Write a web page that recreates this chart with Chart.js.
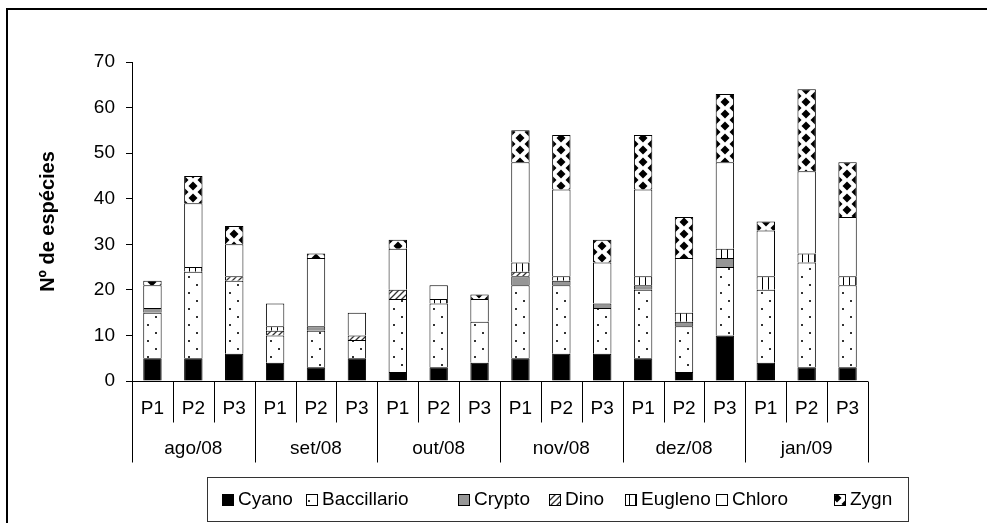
<!DOCTYPE html>
<html>
<head>
<meta charset="utf-8">
<script src="https://cdn.jsdelivr.net/npm/chart.js@4"></script>
<style>
  html, body { margin: 0; padding: 0; background: #fff; }
  #wrap { position: relative; width: 987px; height: 523px; }
</style>
</head>
<body>
<div id="wrap"><canvas id="chart" width="987" height="523"></canvas></div>
<script>
// Données
const months = ["ago/08", "set/08", "out/08", "nov/08", "dez/08", "jan/09"];
const points = ["P1", "P2", "P3"];
const yTicks = [0, 10, 20, 30, 40, 50, 60, 70];

const cyano       = [5, 5, 6,   4, 3, 5,   2, 3, 4,   5, 6, 6,   5, 2, 10,  4, 3, 3];
const baccillario = [10, 19, 16, 6, 8, 4,  16, 14, 9, 16, 15, 10, 15, 10, 15, 16, 23, 18];
const crypto      = [1, 0, 0,   0, 1, 0,   0, 0, 0,   2, 1, 1,   1, 1, 2,   0, 0, 0];
const dino        = [0, 0, 1,   1, 0, 1,   2, 0, 0,   1, 0, 0,   0, 0, 0,   0, 0, 0];
const eugleno     = [0, 1, 0,   1, 0, 0,   0, 1, 0,   2, 1, 0,   2, 2, 2,   3, 2, 2];
const chloro      = [5, 14, 7,  5, 15, 5,  9, 3, 5,  22, 19, 9,  19, 12, 19, 10, 18, 13];
const zygn        = [1, 6, 4,   0, 1, 0,   2, 0, 1,   7, 12, 5,  12, 9, 15,  2, 18, 12];

const labels = [];
months.forEach(m => points.forEach(p => labels.push(p)));

const FONT = "'Liberation Sans', Arial, sans-serif";
const BAR_PCT = 0.45;

// Motifs de remplissage
function makeTile(w, h, draw) {
    const c = document.createElement("canvas");
    c.width = w; c.height = h;
    const g = c.getContext("2d");
    g.fillStyle = "#fff";
    g.fillRect(0, 0, w, h);
    draw(g);
    return c;
}

const dotsTile = makeTile(16, 16, g => {
    g.fillStyle = "#333";
    g.fillRect(4, 4, 2, 2);
    g.fillRect(12, 12, 2, 2);
});
const hatchTile = makeTile(6, 6, g => {
    g.strokeStyle = "#333";
    g.lineWidth = 1.3;
    g.beginPath();
    g.moveTo(0, 6); g.lineTo(6, 0);
    g.moveTo(-1, 1); g.lineTo(1, -1);
    g.moveTo(5, 7); g.lineTo(7, 5);
    g.stroke();
});
const vertTile = makeTile(6, 6, g => {
    g.fillStyle = "#000";
    g.fillRect(5, 0, 1.6, 6);
});
const diamondTile = makeTile(18, 12, g => {
    g.fillStyle = "#000";
    const dia = (cx, cy) => {
        g.beginPath();
        g.moveTo(cx, cy - 4.5); g.lineTo(cx + 4.5, cy); g.lineTo(cx, cy + 4.5); g.lineTo(cx - 4.5, cy);
        g.closePath(); g.fill();
    };
    dia(9, 6); dia(0, 0); dia(18, 0); dia(0, 12); dia(18, 12);
});

function patternFor(tile) {
    return (ctx) => {
        const chart = ctx.chart;
        const p = chart.ctx.createPattern(tile, "repeat");
        const xs = chart.scales.x;
        if (ctx.dataIndex !== undefined && xs) {
            const catW = (xs.right - xs.left) / labels.length;
            const left = xs.getPixelForValue(ctx.dataIndex) - catW * BAR_PCT / 2;
            p.setTransform(new DOMMatrix().translate(Math.round(left), 0));
        }
        return p;
    };
}

const series = [
    { label: "Cyano", data: cyano, fill: "#000", tile: null },
    { label: "Baccillario", data: baccillario, fill: null, tile: dotsTile },
    { label: "Crypto", data: crypto, fill: "#969696", tile: null },
    { label: "Dino", data: dino, fill: null, tile: hatchTile },
    { label: "Eugleno", data: eugleno, fill: null, tile: vertTile },
    { label: "Chloro", data: chloro, fill: "#fff", tile: null },
    { label: "Zygn", data: zygn, fill: null, tile: diamondTile }
];

// Axe des catégories à deux niveaux + cadre + légende
const decorPlugin = {
    id: "decor",
    afterDraw(chart) {
        const ctx = chart.ctx;
        const xs = chart.scales.x;
        const area = chart.chartArea;
        const catW = (xs.right - xs.left) / labels.length;
        const y0 = Math.round(area.bottom) + 0.5;

        ctx.save();
        ctx.strokeStyle = "#000";
        ctx.lineWidth = 1;
        ctx.beginPath();
        ctx.moveTo(xs.left, y0); ctx.lineTo(xs.right, y0);
        for (let i = 0; i <= labels.length; i++) {
            const x = Math.round(xs.left + i * catW) + 0.5;
            const len = (i % 3 === 0) ? 81 : 41;
            ctx.moveTo(x, y0); ctx.lineTo(x, y0 + len);
        }
        ctx.stroke();

        ctx.fillStyle = "#000";
        ctx.font = "19px " + FONT;
        ctx.textAlign = "center";
        ctx.textBaseline = "middle";
        labels.forEach((l, i) => {
            ctx.fillText(l, xs.getPixelForValue(i), y0 + 27);
        });
        months.forEach((m, k) => {
            const cx = xs.left + (k * 3 + 1.5) * catW;
            ctx.fillText(m, cx, y0 + 67);
        });

        // cadre extérieur
        ctx.lineWidth = 2;
        ctx.strokeRect(7, 9, 1000, 600);

        // légende
        ctx.lineWidth = 1;
        ctx.strokeStyle = "#333";
        ctx.strokeRect(207.5, 477.5, 701, 44);
        const legendX = [222, 306, 458, 549, 625, 716, 834];
        ctx.font = "19px " + FONT;
        ctx.textAlign = "left";
        series.forEach((s, i) => {
            const x = legendX[i], y = 494;
            ctx.fillStyle = s.tile ? ctx.createPattern(s.tile, "repeat") : s.fill;
            ctx.fillRect(x, y, 11, 11);
            ctx.strokeStyle = "#000";
            ctx.strokeRect(x + 0.5, y + 0.5, 11, 11);
            ctx.fillStyle = "#000";
            ctx.fillText(s.label, x + 16, y + 5.5);
        });
        ctx.restore();
    }
};

const chart = new Chart(document.getElementById("chart"), {
    type: "bar",
    data: {
        labels: labels,
        datasets: series.map(s => ({
            label: s.label,
            data: s.data.map(v => v === 0 ? null : v),
            backgroundColor: s.tile ? patternFor(s.tile) : s.fill,
            borderColor: "#000",
            borderWidth: 1,
            barPercentage: BAR_PCT,
            categoryPercentage: 1
        }))
    },
    options: {
        responsive: false,
        animation: false,
        devicePixelRatio: 1,
        layout: { padding: { left: 0, top: 62, right: 119, bottom: 142 } },
        plugins: {
            legend: { display: false },
            tooltip: { enabled: false }
        },
        scales: {
            x: { stacked: true, display: false, offset: true },
            y: {
                stacked: true,
                min: 0,
                max: 70,
                afterFit: (scale) => { scale.width = 132; },
                afterBuildTicks: (scale) => { scale.ticks = yTicks.map(v => ({ value: v })); },
                grid: { drawOnChartArea: false, drawTicks: true, tickLength: 6, color: "#000" },
                border: { display: true, color: "#000", width: 1 },
                ticks: { color: "#000", padding: 11, font: { family: FONT, size: 19 } },
                title: {
                    display: true,
                    text: "Nº de espécies",
                    color: "#000",
                    font: { family: FONT, size: 20, weight: "bold" },
                    padding: { top: 36, bottom: 0 }
                }
            }
        }
    },
    plugins: [decorPlugin]
});
</script>
</body>
</html>
